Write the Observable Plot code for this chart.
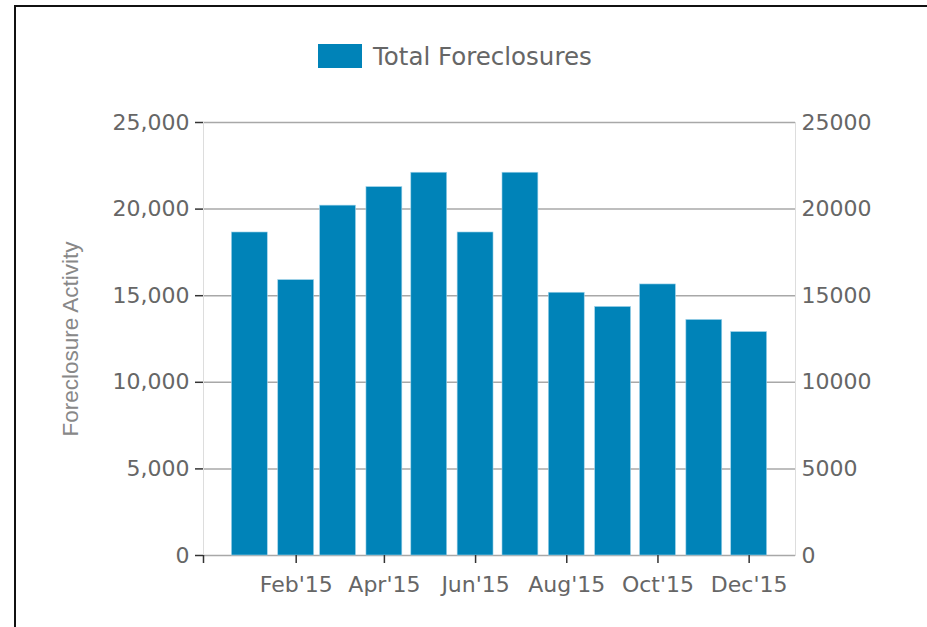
<!DOCTYPE html>
<html>
<head>
<meta charset="utf-8">
<script src="https://cdn.jsdelivr.net/npm/d3@7"></script>
<script src="https://cdn.jsdelivr.net/npm/@observablehq/plot@0.6"></script>
<style>
  html, body { margin: 0; padding: 0; background: #fff; }
  #wrap { position: relative; width: 927px; height: 627px; overflow: hidden; font-family: "DejaVu Sans", sans-serif; }
  #frameTop { position: absolute; left: 14px; top: 5px; width: 913px; height: 2px; background: #111; }
  #frameLeft { position: absolute; left: 14px; top: 5px; width: 2px; height: 622px; background: #111; }
  #legend { position: relative; height: 90px; }
  #legend .sw { position: absolute; left: 318px; top: 44px; width: 44px; height: 24px; background: #0083B8; }
  #legend .lb { position: absolute; left: 373px; top: 42px; font-size: 24.5px; line-height: 30px; color: #666; white-space: nowrap; }
  #chart svg { display: block; }
</style>
</head>
<body>
<div id="wrap">
  <div id="legend"><div class="sw"></div><div class="lb" id="legendLabel"></div></div>
  <div id="chart"></div>
  <div id="frameTop"></div>
  <div id="frameLeft"></div>
</div>
<script>
// ---- data ----
const seriesName = "Total Foreclosures";
const yTitle = "Foreclosure Activity";
const months = ["2015-01-01","2015-02-01","2015-03-01","2015-04-01","2015-05-01","2015-06-01",
                "2015-07-01","2015-08-01","2015-09-01","2015-10-01","2015-11-01","2015-12-01"];
const values = [18650, 15900, 20200, 21270, 22100, 18650, 22100, 15170, 14350, 15650, 13600, 12900];
const xTicks = ["2014-12-01","2015-02-01","2015-04-01","2015-06-01","2015-08-01","2015-10-01","2015-12-01"];
const xDomain = ["2014-12-01","2016-01-01"];
const yTicks = [0, 5000, 10000, 15000, 20000, 25000];

// ---- build ----
document.getElementById("legendLabel").textContent = seriesName;
const data = months.map((m, i) => ({date: new Date(m + "T00:00:00Z"), value: values[i]}));
const fmtMonth = d3.utcFormat("%b'%y");
const firstTick = new Date(xTicks[0] + "T00:00:00Z").getTime();
const halfBar = 12; // days on either side of month start

const chart = Plot.plot({
  width: 927,
  height: 537,
  marginLeft: 203,
  marginRight: 132,
  marginTop: 32,
  marginBottom: 72,
  style: {fontFamily: "DejaVu Sans, sans-serif", fontSize: "22px", color: "#666", background: "#fff"},
  x: {type: "utc", domain: xDomain.map(d => new Date(d + "T00:00:00Z"))},
  y: {domain: [0, 25000]},
  marks: [
    Plot.gridY(yTicks, {stroke: "#a8a8a8", strokeOpacity: 1, strokeWidth: 1.5}),
    Plot.frame({anchor: "left", stroke: "#ddd"}),
    Plot.frame({anchor: "right", stroke: "#ddd"}),
    Plot.rectY(data, {
      x1: d => d3.utcDay.offset(d.date, -halfBar),
      x2: d => d3.utcDay.offset(d.date, halfBar),
      y: "value",
      fill: "#0083B8",
      stroke: "#9fd3ea",
      strokeWidth: 0.6
    }),
    Plot.axisY(yTicks, {anchor: "left", tickSize: 8, tickPadding: 6, stroke: "#333", strokeWidth: 1.5,
      tickFormat: d3.format(","), fill: "#666", label: null}),
    Plot.axisY(yTicks, {anchor: "right", tickSize: 0, tickPadding: 6,
      tickFormat: d => String(d), fill: "#666", label: null}),
    Plot.axisX(xTicks.map(d => new Date(d + "T00:00:00Z")), {anchor: "bottom", tickSize: 8, tickPadding: 13,
      stroke: "#333", strokeWidth: 1.5, fill: "#666", label: null,
      tickFormat: d => d.getTime() === firstTick ? "" : fmtMonth(d)}),
    Plot.text([yTitle], {frameAnchor: "left", dx: -133, rotate: -90, text: d => d, textAnchor: "middle",
      fill: "#888", fontSize: 22.5, fontFamily: "Liberation Sans, Arial, sans-serif"})
  ]
});
document.getElementById("chart").appendChild(chart);
</script>
</body>
</html>
